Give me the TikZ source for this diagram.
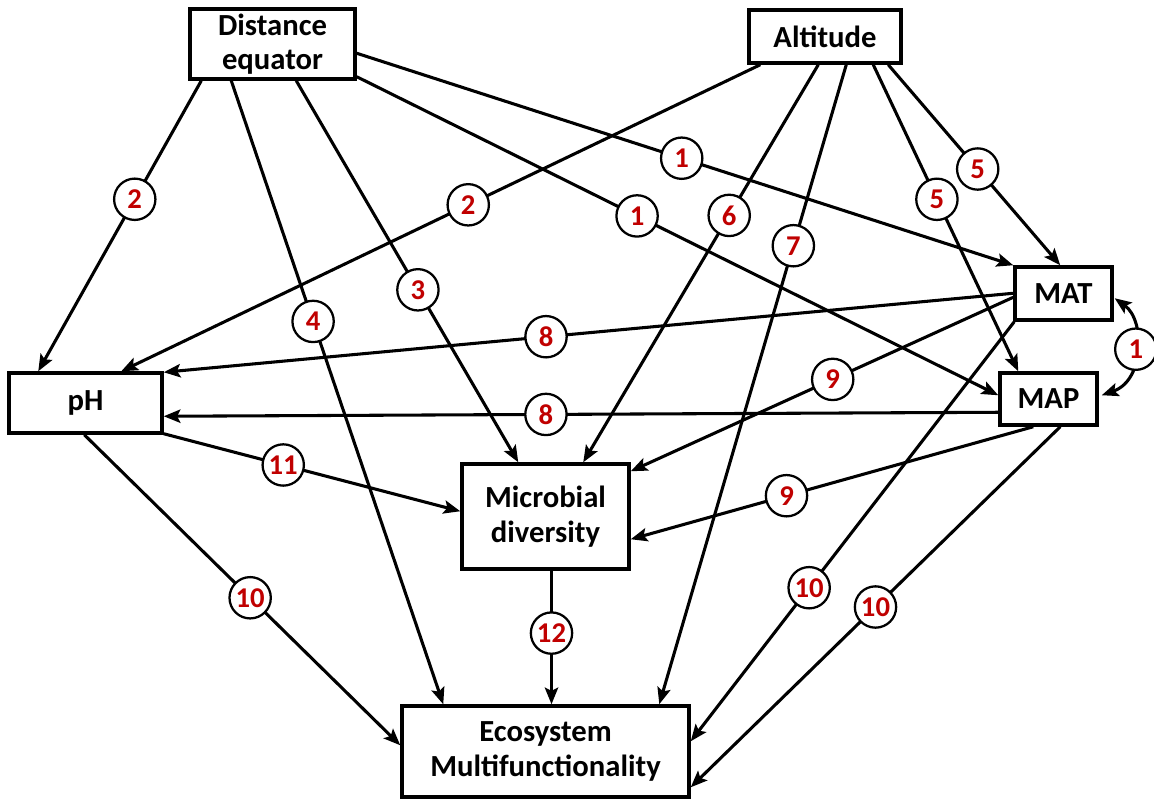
\documentclass[tikz,border=0pt]{standalone}
\usepackage{fontspec}
\setmainfont{Carlito}
\usetikzlibrary{arrows.meta,calc}
\definecolor{labred}{RGB}{192,0,0}
\begin{document}
\begin{tikzpicture}[x=0.75pt,y=-0.75pt,
  box/.style={draw,line width=2.6pt,inner sep=0pt,align=center,font=\fontsize{23}{26}\selectfont\bfseries},
  tip/.style={Stealth[length=12.5pt,width=10pt,inset=2.5pt]},
  conn/.style={line width=2.3pt,-{Stealth[length=12.5pt,width=10pt,inset=2.5pt]}},
  lab/.style={circle,draw,fill=white,line width=1.7pt,minimum size=31pt,inner sep=0pt,text=labred,font=\fontsize{21.5}{21.5}\selectfont\bfseries}]
\useasboundingbox (0,0) rectangle (1154,799);

% boxes
\node[box,minimum width=123.75pt,minimum height=52.5pt] (DE) at (272.5,44) {Distance\\equator};
\node[box,minimum width=114pt,minimum height=39.75pt] (ALT) at (825,36.5) {Altitude};
\node[box,minimum width=72.75pt,minimum height=39.75pt] (MAT) at (1063.5,293.5) {MAT};
\node[box,minimum width=72.75pt,minimum height=39pt] (MAP) at (1048.5,399) {MAP};
\node[box,minimum width=114.75pt,minimum height=45pt] (PH) at (85.5,403) {pH};
\node[box,minimum width=125.25pt,minimum height=78.75pt] (MD) at (545.5,516.5) {Microbial\\diversity};
\node[box,minimum width=215.25pt,minimum height=68.25pt] (ECO) at (545.5,751.5) {Ecosystem\\Multifunctionality};

% connectors
\draw[conn] ($(DE.south west)+(13,0)$) -- ($(PH.north west)+(31,0)$) coordinate[pos=0.408] (l1);
\draw[conn] ($(DE.south west)+(43,0)$) -- ($(ECO.north west)+(43,0)$) coordinate[pos=0.386] (l2);
\draw[conn] ($(DE.south west)+(108,0)$) -- ($(MD.north west)+(58,0)$) coordinate[pos=0.548] (l3);
\draw[conn] ($(DE.south east)+(0,-4)$) -- ($(MAP.north west)+(0,24)$) coordinate[pos=0.437] (l4);
\draw[conn] ($(DE.north east)+(0,46)$) -- (MAT.north west) coordinate[pos=0.495] (l5);

\draw[conn] ($(ALT.south west)+(13,0)$) -- ($(PH.north west)+(114,0)$) coordinate[pos=0.457] (l6);
\draw[conn] ($(ALT.south west)+(71,0)$) -- ($(MD.north west)+(123,0)$) coordinate[pos=0.379] (l7);
\draw[conn] ($(ALT.south west)+(99,0)$) -- ($(ECO.north west)+(259,0)$) coordinate[pos=0.283] (l8);
\draw[conn] ($(ALT.south west)+(126,0)$) -- ($(MAP.north west)+(20,0)$) coordinate[pos=0.439] (l9);
\draw[conn] ($(ALT.south west)+(141,0)$) -- ($(MAT.north west)+(47,0)$) coordinate[pos=0.52] (l10);

\draw[conn] ($(MAT.north west)+(0,28)$) -- ($(PH.north east)+(0,1)$) coordinate[pos=0.55] (l11);
\draw[conn] ($(MAT.north west)+(0,32)$) -- ($(MD.north east)+(0,9)$) coordinate[pos=0.472] (l12);
\draw[conn] ($(MAT.south west)+(1,0)$) -- ($(ECO.north east)+(0,37)$) coordinate[pos=0.634] (l13);

\draw[conn] ($(MAP.north west)+(0,41)$) -- ($(PH.north east)+(0,45)$) coordinate[pos=0.542] (l14);
\draw[conn] ($(MAP.south west)+(35,0)$) -- ($(MD.north east)+(0,77)$) coordinate[pos=0.613] (l15);
\draw[conn] ($(MAP.south west)+(62,0)$) -- ($(ECO.north east)+(0,83)$) coordinate[pos=0.5] (l16);

\draw[conn] ($(PH.south east)+(0,-1)$) -- ($(MD.north west)+(0,49)$) coordinate[pos=0.403] (l17);
\draw[conn] ($(PH.south west)+(77,0)$) -- ($(ECO.north west)+(0,41)$) coordinate[pos=0.525] (l18);

\draw[conn] ($(MD.south)+(6,0)$) -- ($(ECO.north)+(6,0)$) coordinate[pos=0.467] (l19);

\draw[line width=2.3pt,{Stealth[length=12.5pt,width=10pt,inset=2.5pt]}-{Stealth[length=12.5pt,width=10pt,inset=2.5pt]}]
  ($(MAT.north east)+(1,33)$) .. controls (1145,320) and (1145,380) .. ($(MAP.north east)+(3,24)$) coordinate[pos=0.5] (l20);

% labels
\node[lab] at (l1) {2};
\node[lab] at (l2) {4};
\node[lab] at (l3) {3};
\node[lab] at (l4) {1};
\node[lab] at (l5) {1};
\node[lab] at (l6) {2};
\node[lab] at (l7) {6};
\node[lab] at (l8) {7};
\node[lab] at (l9) {5};
\node[lab] at (l10) {5};
\node[lab] at (l11) {8};
\node[lab] at (l12) {9};
\node[lab] at (l13) {10};
\node[lab] at (l14) {8};
\node[lab] at (l15) {9};
\node[lab] at (l16) {10};
\node[lab] at (l17) {11};
\node[lab] at (l18) {10};
\node[lab] at (l19) {12};
\node[lab] at (l20) {1};
\end{tikzpicture}
\end{document}
